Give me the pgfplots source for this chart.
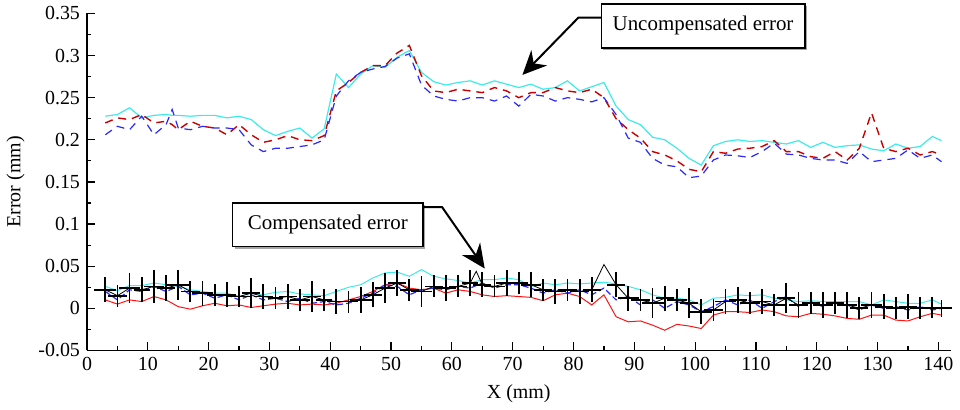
\documentclass[border=0pt]{standalone}
\usepackage{fontspec}
\setmainfont{Liberation Serif}
\usepackage{pgfplots}
\pgfplotsset{compat=1.18}
\usepackage{pgfplotstable}
\usetikzlibrary{arrows.meta,shadows}

\definecolor{ucyan}{RGB}{60,235,235}
\definecolor{ured}{RGB}{200,0,0}
\definecolor{ublue}{RGB}{40,40,255}
\definecolor{lred}{RGB}{255,20,20}

% upper group: uncompensated error
\pgfplotstableread{
x cy rd bl
3 0.228 0.220 0.206
5 0.230 0.226 0.216
7 0.238 0.224 0.212
9 0.226 0.230 0.228
11 0.229 0.220 0.206
13 0.230 0.222 0.218
14 0.229 0.218 0.236
15 0.229 0.212 0.214
17 0.228 0.222 0.212
19 0.229 0.216 0.216
21 0.229 0.214 0.214
23 0.226 0.206 0.214
25 0.228 0.218 0.212
27 0.224 0.206 0.194
29 0.212 0.197 0.186
31 0.205 0.200 0.190
33 0.210 0.205 0.190
35 0.214 0.200 0.192
37 0.202 0.199 0.194
39 0.213 0.205 0.200
41 0.278 0.258 0.252
43 0.262 0.268 0.270
45 0.278 0.280 0.280
47 0.288 0.288 0.284
49 0.286 0.288 0.287
51 0.298 0.303 0.297
53 0.306 0.312 0.302
55 0.280 0.276 0.265
57 0.269 0.258 0.252
59 0.265 0.256 0.248
61 0.268 0.260 0.246
63 0.270 0.258 0.250
65 0.265 0.256 0.250
67 0.270 0.262 0.246
69 0.266 0.258 0.252
71 0.262 0.250 0.240
73 0.266 0.256 0.254
75 0.260 0.256 0.252
77 0.262 0.262 0.246
79 0.270 0.258 0.250
81 0.258 0.256 0.248
83 0.263 0.260 0.245
85 0.268 0.250 0.250
87 0.240 0.225 0.230
89 0.224 0.212 0.202
91 0.218 0.202 0.197
93 0.203 0.186 0.178
95 0.200 0.182 0.170
97 0.190 0.175 0.168
99 0.178 0.165 0.155
101 0.170 0.162 0.157
103 0.193 0.186 0.176
105 0.198 0.184 0.182
107 0.200 0.189 0.181
109 0.198 0.190 0.179
111 0.199 0.192 0.186
113 0.197 0.199 0.196
115 0.195 0.186 0.183
117 0.199 0.186 0.182
119 0.191 0.180 0.178
121 0.197 0.178 0.176
123 0.191 0.186 0.176
125 0.193 0.176 0.172
127 0.194 0.190 0.186
129 0.189 0.232 0.174
131 0.187 0.190 0.176
133 0.195 0.186 0.178
135 0.190 0.190 0.188
137 0.192 0.182 0.178
139 0.204 0.186 0.182
140.5 0.199 0.182 0.174
}\upperdata

% lower group: compensated error
\pgfplotstableread{
x cy rd bl
3 0.026 0.010 0.020
5 0.021 0.005 0.010
7 0.027 0.010 0.022
9 0.027 0.008 0.020
11 0.030 0.014 0.026
13 0.028 0.010 0.020
15 0.026 0.002 0.026
17 0.022 -0.001 0.016
19 0.020 0.003 0.018
21 0.018 0.006 0.012
23 0.018 0.003 0.016
25 0.014 0.004 0.010
27 0.018 0.001 0.016
29 0.016 0.003 0.010
31 0.019 0.005 0.012
33 0.020 0.006 0.008
35 0.017 0.004 0.012
37 0.016 0.005 0.006
39 0.015 0.004 0.008
41 0.020 0.006 0.004
43 0.025 0.010 0.006
45 0.028 0.014 0.012
47 0.036 0.020 0.018
49 0.042 0.028 0.028
51 0.043 0.030 0.026
53 0.038 0.024 0.016
55 0.046 0.022 0.022
57 0.038 0.024 0.024
59 0.035 0.018 0.022
61 0.033 0.022 0.026
63 0.030 0.020 0.024
65 0.034 0.016 0.030
67 0.034 0.014 0.024
69 0.036 0.015 0.028
71 0.034 0.014 0.028
73 0.026 0.013 0.024
75 0.030 0.009 0.018
77 0.028 0.016 0.022
79 0.030 0.018 0.018
81 0.029 0.014 0.022
83 0.030 0.004 0.016
85 0.031 0.016 0.024
87 0.029 -0.010 0.010
89 0.026 -0.016 0.014
91 0.022 -0.015 0.004
93 0.016 -0.020 0.010
95 0.012 -0.026 0.000
97 0.012 -0.019 0.008
99 0.010 -0.021 0.004
101 0.004 -0.024 -0.004
103 0.012 -0.008 0.002
105 0.013 -0.004 0.010
107 0.016 -0.004 0.004
109 0.015 -0.005 0.010
111 0.016 -0.002 0.000
113 0.012 -0.004 0.008
115 0.010 -0.009 0.014
117 0.008 -0.010 0.002
119 0.009 -0.006 0.008
121 0.008 -0.007 0.002
123 0.008 -0.009 0.006
125 0.008 -0.012 0.004
127 0.008 -0.013 -0.002
129 0.004 -0.008 0.004
131 0.010 -0.008 0.000
133 0.008 -0.014 0.002
135 0.006 -0.015 -0.002
137 0.006 -0.010 0.002
139 0.010 -0.006 -0.002
140.5 0.005 -0.008 0.000
}\lowerdata

% black measured series with error crosses
\pgfplotstableread{
x y ex ey
3 0.022 1.8 0.015
5 0.015 1.5 0.013
7 0.024 1.7 0.018
9 0.022 1.3 0.015
11 0.026 1.6 0.020
13 0.024 1.5 0.015
15 0.028 1.8 0.018
17 0.020 1.5 0.013
19 0.018 1.7 0.015
21 0.016 1.3 0.013
23 0.016 1.5 0.015
25 0.014 1.8 0.013
27 0.018 1.5 0.018
29 0.014 1.6 0.015
31 0.012 1.3 0.013
33 0.014 1.5 0.015
35 0.010 1.7 0.013
37 0.014 1.5 0.018
39 0.010 1.3 0.013
41 0.008 1.6 0.015
43 0.008 1.5 0.013
45 0.010 1.8 0.015
47 0.016 1.5 0.015
49 0.024 1.7 0.018
51 0.030 1.5 0.015
53 0.022 1.6 0.013
55 0.020 1.8 0.018
57 0.026 1.5 0.013
59 0.024 1.7 0.015
61 0.026 1.5 0.013
63 0.030 1.3 0.015
64 0.044 0 0
65 0.028 1.5 0.015
67 0.026 1.7 0.013
69 0.030 1.8 0.015
71 0.030 1.5 0.013
73 0.028 1.6 0.015
75 0.022 1.5 0.013
77 0.020 1.7 0.015
79 0.022 1.5 0.013
81 0.020 1.6 0.015
83 0.022 1.5 0.015
85 0.052 0 0
87 0.028 1.5 0.015
89 0.012 1.7 0.015
91 0.010 1.5 0.013
93 0.006 1.8 0.018
95 0.012 1.5 0.015
97 0.010 1.6 0.013
99 0.006 1.5 0.018
101 -0.004 1.8 0.015
103 -0.002 1.5 0.013
105 0.008 1.7 0.015
107 0.010 1.5 0.015
109 0.006 1.6 0.013
111 0.008 1.5 0.015
113 0.004 1.8 0.013
115 0.012 1.5 0.018
117 0.004 1.6 0.015
119 0.006 1.5 0.013
121 0.004 1.7 0.015
123 0.006 1.5 0.013
125 0.004 1.6 0.015
127 0.000 1.5 0.013
129 0.004 1.8 0.015
131 0.002 1.5 0.015
133 0.000 1.6 0.013
135 0.002 1.5 0.015
137 0.000 1.7 0.013
139 0.001 1.5 0.013
140.5 0.000 1.8 0.010
}\measdata

\begin{document}
\begin{tikzpicture}
\begin{axis}[
    scale only axis,
    width=433pt, height=169pt,
    xmin=0, xmax=142, ymin=-0.05, ymax=0.35,
    axis x line*=bottom, axis y line*=left,
    axis line style={-, line width=0.6pt},
    tick align=inside,
    tick style={black, line width=0.6pt},
    major tick length=4pt, minor tick length=2pt,
    xtick={0,10,...,140},
    ytick={-0.05,0,0.05,0.1,0.15,0.2,0.25,0.3,0.35},
    minor x tick num=1, minor y tick num=1,
    scaled y ticks=false,
    yticklabel style={/pgf/number format/fixed, /pgf/number format/precision=2},
    /pgf/number format/assume math mode=true,
    tick label style={font=\fontsize{10}{12}\selectfont},
    label style={font=\fontsize{10}{12}\selectfont},
    xlabel={X (mm)}, ylabel={Error (mm)},
    clip=false,
]
% uncompensated
\addplot[ucyan, line width=0.6pt] table[x=x, y=cy] {\upperdata};
\addplot[ured, line width=0.7pt, dash pattern=on 4pt off 3pt] table[x=x, y=rd] {\upperdata};
\addplot[ublue, line width=0.6pt, dash pattern=on 4pt off 3pt] table[x=x, y=bl] {\upperdata};
% compensated
\addplot[ucyan, line width=0.5pt] table[x=x, y=cy] {\lowerdata};
\addplot[lred, line width=0.5pt] table[x=x, y=rd] {\lowerdata};
\addplot[ublue, line width=0.6pt, dash pattern=on 3pt off 1.5pt] table[x=x, y=bl] {\lowerdata};
\addplot[black, line width=0.4pt,
    error bars/.cd, x dir=both, x explicit, y dir=both, y explicit,
    error mark=none, error bar style={line width=0.9pt, black}]
    table[x=x, y=y, x error=ex, y error=ey] {\measdata};

% annotations
\node[draw, line width=0.8pt, fill=white,
      drop shadow={shadow xshift=1pt, shadow yshift=-1pt, fill=gray!70, opacity=1},
      minimum width=102pt, minimum height=22pt, inner sep=0pt,
      font=\fontsize{10.5}{12}\selectfont] at (axis cs:101.3,0.3353) {Uncompensated error};
\draw[line width=1pt, -{Stealth[length=12pt,width=11pt]}]
    (axis cs:84.6,0.345) -- (axis cs:80.8,0.345) -- (axis cs:71.6,0.277);
\node[draw, line width=0.8pt, fill=white,
      drop shadow={shadow xshift=1pt, shadow yshift=-1pt, fill=gray!70, opacity=1},
      minimum width=95.5pt, minimum height=22pt, inner sep=0pt,
      font=\fontsize{10.5}{12}\selectfont] at (axis cs:39.6,0.0993) {Compensated error};
\draw[line width=1pt, -{Stealth[length=12pt,width=11pt]}]
    (axis cs:55.2,0.12) -- (axis cs:58.4,0.12) -- (axis cs:65.4,0.0472);
\end{axis}
\end{tikzpicture}
\end{document}
